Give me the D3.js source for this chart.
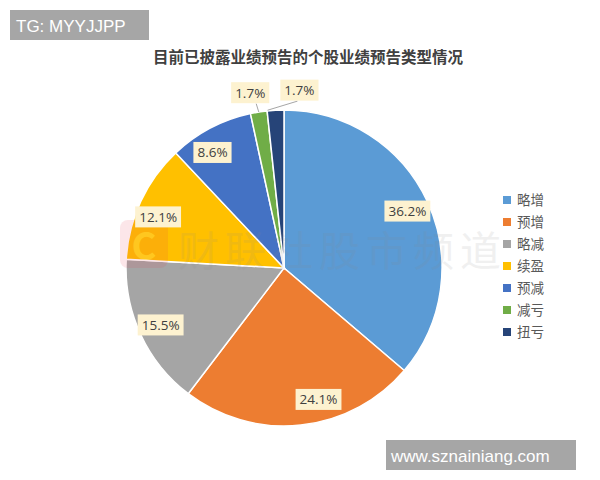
<!DOCTYPE html>
<html><head><meta charset="utf-8">
<script src="https://cdn.jsdelivr.net/npm/d3@7"></script>
<style>html,body{margin:0;padding:0;background:#fff;}svg{display:block;}</style>
</head><body>
<svg id="c" width="600" height="480"></svg>
<script>
const categories = ["略增","预增","略减","续盈","预减","减亏","扭亏"];
const values = [36.2, 24.1, 15.5, 12.1, 8.6, 1.7, 1.7];
const labels = ["36.2%","24.1%","15.5%","12.1%","8.6%","1.7%","1.7%"];
const colors = ["#5B9BD5","#ED7D31","#A5A5A5","#FFC000","#4472C4","#70AD47","#264478"];
const title = "目前已披露业绩预告的个股业绩预告类型情况";

const svg = d3.select("#c");
const font = "'Noto Sans CJK SC','Microsoft YaHei',sans-serif";
const cx = 284, cy = 268, R = 158;

const pie = d3.pie().sort(null).value(d=>d);
const arcs = pie(values);
const arc = d3.arc().innerRadius(0).outerRadius(R);
const g = svg.append("g").attr("transform",`translate(${cx},${cy})`);
g.selectAll("path").data(arcs).enter().append("path")
  .attr("d",arc).attr("fill",(d,i)=>colors[i]).attr("stroke","#fff").attr("stroke-width",1.5);

// watermark (faint, drawn over pie like the reference)
const wm = svg.append("g").attr("opacity", 0.12);
wm.append("rect").attr("x",120).attr("y",220).attr("width",48).attr("height",48).attr("rx",8).attr("fill","#e8384f");
wm.append("text").attr("x",144).attr("y",260).attr("text-anchor","middle").attr("font-family",font)
  .attr("font-weight","bold").attr("font-size",38).attr("fill","#fff").text("C");
wm.append("text").attr("x",178).attr("y",266).attr("font-family",font).attr("font-size",41)
  .attr("letter-spacing",6).attr("fill","#888").text("财联社股市频道");

// title
svg.append("text").attr("x",308).attr("y",63).attr("text-anchor","middle")
  .attr("font-family",font).attr("font-weight","bold").attr("font-size",15.5).attr("fill","#404040").text(title);

// labels
const lgp = svg.append("g").attr("transform",`translate(${cx},${cy})`);
const angleShift = [0,-0.15,0,-0.05,-0.07,-0.03,0.14];
arcs.forEach((d,i)=>{
  const small = values[i] < 3;
  let x, y;
  const mid = (d.startAngle+d.endAngle)/2;
  const a = mid + angleShift[i];
  if (!small) {
    const r = R*0.86;
    x = r*Math.sin(a); y = -r*Math.cos(a);
  } else {
    const r = R*1.13;
    x = r*Math.sin(a); y = -r*Math.cos(a);
    const ex = R*Math.sin(mid), ey = -R*Math.cos(mid);
    lgp.append("line").attr("x1",ex + (i===6 ? -8 : 0)).attr("y1",ey)
      .attr("x2", i===6 ? x-2 : x+6).attr("y2", y+11)
      .attr("stroke","#a6a6a6").attr("stroke-width",1);
  }
  const t = lgp.append("text").attr("x",x).attr("y",y).attr("text-anchor","middle").attr("dy","0.36em")
    .attr("font-family","'Open Sans','DejaVu Sans',sans-serif").attr("font-size",13.5).attr("fill","#404040").text(labels[i]);
  const bb = t.node().getBBox();
  lgp.insert("rect", function(){return t.node();}).attr("x",bb.x-4).attr("y",y-10.5).attr("width",bb.width+8).attr("height",21)
    .attr("fill","#FDF2D0");
});

// legend
const lg = svg.append("g");
categories.forEach((c,i)=>{
  const y = 200 + i*22;
  lg.append("rect").attr("x",503).attr("y",y-4).attr("width",8).attr("height",8).attr("fill",colors[i]);
  lg.append("text").attr("x",517).attr("y",y).attr("dy","0.35em").attr("font-family",font)
    .attr("font-size",13.5).attr("fill","#595959").text(c);
});

// overlays
svg.append("rect").attr("x",10).attr("y",10).attr("width",139).attr("height",30).attr("fill","#a6a6a6");
svg.append("text").attr("x",16).attr("y",32).attr("font-family","'Liberation Sans',Arial,sans-serif")
  .attr("font-size",17).attr("fill","#fff").text("TG: MYYJJPP");
svg.append("rect").attr("x",386).attr("y",440).attr("width",190).attr("height",30).attr("fill","#a6a6a6");
svg.append("text").attr("x",391).attr("y",462).attr("font-family","'Liberation Sans',Arial,sans-serif")
  .attr("font-size",17).attr("fill","#fff").text("www.sznainiang.com");
</script>
</body></html>
